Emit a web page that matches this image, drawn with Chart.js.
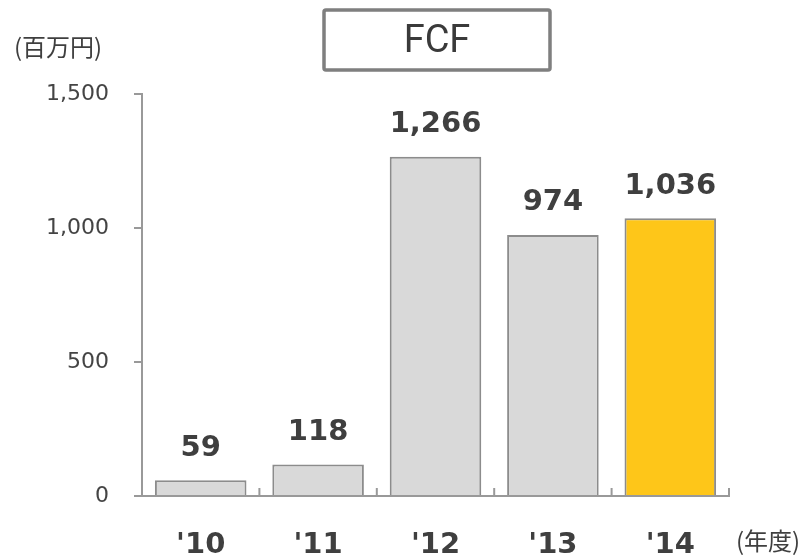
<!DOCTYPE html>
<html>
<head>
<meta charset="utf-8">
<script src="https://cdn.jsdelivr.net/npm/chart.js@4"></script>
<style>
  html, body { margin: 0; padding: 0; background: #fff; }
  #wrap { width: 802px; height: 556px; }
</style>
</head>
<body>
<div id="wrap"><canvas id="fcfChart" width="802" height="556"></canvas></div>
<script>
// data
var years = ["'10", "'11", "'12", "'13", "'14"];
var fcf = [59, 118, 1266, 974, 1036];
var barColors = ["#d9d9d9", "#d9d9d9", "#d9d9d9", "#d9d9d9", "#fec619"];
var yTicks = [0, 500, 1000, 1500];

var textColor = "#3f3f3f";
var axisColor = "#999999";

// labels, title box and small inward ticks on the x axis
var extras = {
    id: "extras",
    afterDatasetsDraw: function (chart) {
        var ctx = chart.ctx;
        var x = chart.scales.x, y = chart.scales.y;
        ctx.save();

        // value labels above bars
        ctx.fillStyle = textColor;
        ctx.font = "bold 29px 'DejaVu Sans'";
        ctx.textAlign = "center";
        ctx.textBaseline = "middle";
        var meta = chart.getDatasetMeta(0);
        meta.data.forEach(function (bar, i) {
            ctx.fillText(fcf[i].toLocaleString("en-US"), bar.x, bar.y - 32);
        });

        // x axis ticks pointing up
        ctx.strokeStyle = axisColor;
        ctx.lineWidth = 2;
        var half = (x.getPixelForValue(1) - x.getPixelForValue(0)) / 2;
        for (var i = 0; i <= years.length; i++) {
            var px = x.getPixelForValue(0) - half + i * half * 2;
            ctx.beginPath();
            ctx.moveTo(px, y.bottom);
            ctx.lineTo(px, y.bottom - 8);
            ctx.stroke();
        }

        // title box
        ctx.strokeStyle = "#7f7f7f";
        ctx.lineWidth = 3.5;
        ctx.beginPath();
        ctx.roundRect(324, 10, 226, 60, 2);
        ctx.stroke();
        ctx.fillStyle = "#3a3a3a";
        ctx.font = "38px Roboto";
        ctx.fillText("FCF", 437, 42);

        // units
        ctx.font = "24px 'Noto Sans CJK JP'";
        ctx.textAlign = "left";
        ctx.fillStyle = textColor;
        ctx.fillText("(百万円)", 14, 47);
        ctx.fillText("(年度)", 736, 541);
        ctx.restore();
    }
};

var ctx = document.getElementById("fcfChart").getContext("2d");
var chart = new Chart(ctx, {
    type: "bar",
    data: {
        labels: years,
        datasets: [
            {
                label: "FCF",
                data: fcf,
                backgroundColor: barColors,
                borderColor: "#8c8c8c",
                borderWidth: 2,
                borderSkipped: "bottom",
                barPercentage: 0.78,
                categoryPercentage: 1.0
            }
        ]
    },
    options: {
        responsive: false,
        animation: false,
        layout: { padding: { top: 94, right: 73, left: 0, bottom: 0 } },
        plugins: {
            legend: { display: false },
            title: { display: false },
            tooltip: { enabled: false }
        },
        scales: {
            x: {
                grid: { display: false },
                border: { display: true, color: axisColor, width: 2 },
                ticks: {
                    color: textColor,
                    font: { family: "DejaVu Sans", size: 29, weight: "bold" },
                    padding: 24
                },
                afterFit: function (scale) { scale.height = 60; }
            },
            y: {
                min: 0,
                max: 1500,
                afterBuildTicks: function (scale) {
                    scale.ticks = yTicks.map(function (v) { return { value: v }; });
                },
                grid: {
                    drawOnChartArea: false,
                    tickLength: 8,
                    color: axisColor,
                    lineWidth: 2
                },
                border: { display: true, color: axisColor, width: 2 },
                ticks: {
                    color: "#444444",
                    font: { family: "DejaVu Sans", size: 22 },
                    padding: 25,
                    callback: function (v) { return v.toLocaleString("en-US"); }
                },
                afterFit: function (scale) { scale.width = 142; }
            }
        }
    },
    plugins: [extras]
});
</script>
</body>
</html>
